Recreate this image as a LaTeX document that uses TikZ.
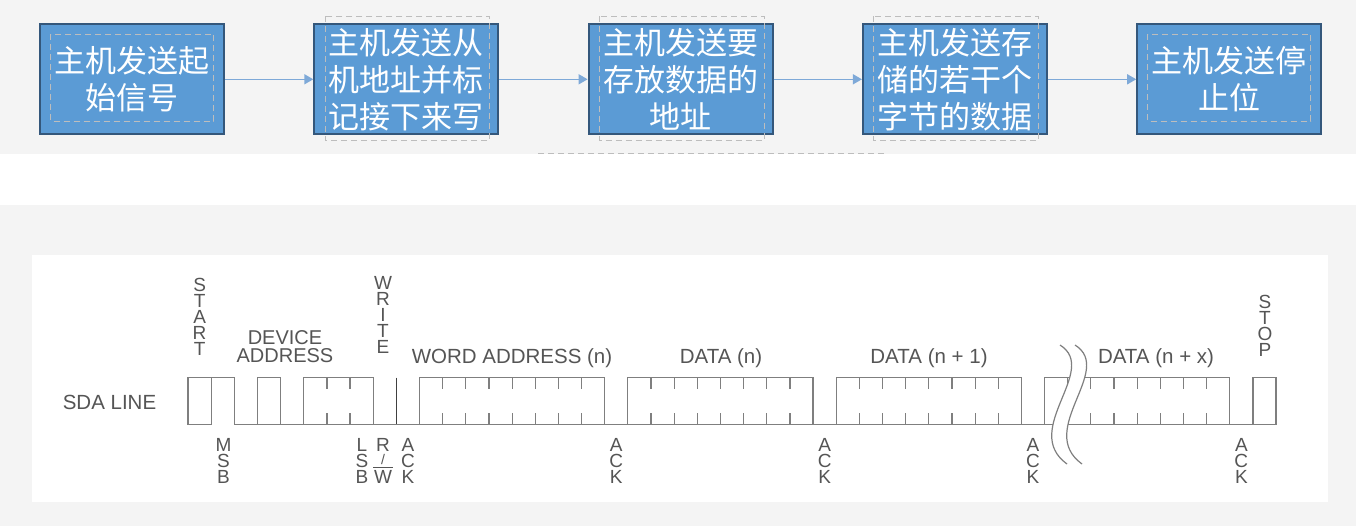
\documentclass[tikz,border=0pt]{standalone}
\usepackage{fontspec}
\setmainfont{Liberation Sans}
\newfontfamily\cjk{Noto Sans CJK SC}
\usetikzlibrary{positioning,arrows.meta}

\definecolor{bggray}{HTML}{F4F4F4}
\definecolor{boxblue}{HTML}{5B9BD5}
\definecolor{boxedge}{HTML}{34577B}
\definecolor{flowline}{HTML}{7EA9D8}
\definecolor{framegray}{HTML}{BDBDBD}
\definecolor{wavegray}{HTML}{7F7F7F}
\definecolor{labelgray}{HTML}{555555}

% W with a bar over it
\newcommand\barW{\makebox[0pt][l]{\hspace{-1pt}\smash{\rule[15.8pt]{20pt}{0.9pt}}}W}

\begin{document}
\begin{tikzpicture}[x=1pt,y=-1pt,
  stepbox/.style={draw=boxedge,line width=2pt,fill=boxblue,minimum width=184pt,
    minimum height=110pt,inner sep=0pt,align=center,text=white,
    font=\cjk\fontsize{31pt}{37pt}\selectfont},
  flow/.style={flowline,line width=1.5pt,-{Triangle[length=9pt,width=10pt]}},
  textframe/.style={framegray,line width=1pt,dash pattern=on 6pt off 4pt},
  wave/.style={wavegray,line width=1.2pt,line cap=rect},
  ackline/.style={black!75,line width=0.8pt},
  lbl/.style={text=labelgray,inner sep=0pt,font=\fontsize{20.5pt}{24pt}\selectfont},
  stack/.style={text=labelgray,inner sep=0pt,align=center,font=\fontsize{19pt}{16pt}\selectfont}]
\useasboundingbox (0,0) rectangle (1356,526);
\fill[bggray] (0,0) rectangle (1356,154);
\fill[bggray] (0,205) rectangle (1356,526);
\fill[white] (32,255) rectangle (1328,502);
\draw[textframe] (538,153.5) -- (884,153.5);

% flow of the write sequence
\node[stepbox] (b1) at (132,79.3) {主机发送起\\始信号};
\node[stepbox,right=88.3pt of b1] (b2) {主机发送从\\机地址并标\\记接下来写};
\node[stepbox,right=88.3pt of b2] (b3) {主机发送要\\存放数据的\\地址};
\node[stepbox,right=88.3pt of b3] (b4) {主机发送存\\储的若干个\\字节的数据};
\node[stepbox,right=88.3pt of b4] (b5) {主机发送停\\止位};
\foreach \b in {b1,b5}
  \draw[textframe] ([shift={(11.5,11)}]\b.north west) rectangle ([shift={(-11.5,-14)}]\b.south east);
\foreach \b in {b2,b3,b4}
  \draw[textframe] ([shift={(12,-7)}]\b.north west) rectangle ([shift={(-9.5,5)}]\b.south east);
\foreach \a/\b in {b1/b2,b2/b3,b3/b4,b4/b5}
  \draw[flow] (\a) -- (\b);

% SDA waveform, one bit = \ux
\def\xo{188}\def\ux{23.15}\def\hi{377.7}\def\lo{424.3}
\foreach \a/\b in {0/2,3/4,5/8,10/18,19/27,28/36,37/45,46/47}
  \draw[wave] ({\xo+\a*\ux},\hi) -- ({\xo+\b*\ux},\hi);
\foreach \a/\b in {0/1,2/47}
  \draw[wave] ({\xo+\a*\ux},\lo) -- ({\xo+\b*\ux},\lo);
\foreach \k in {0,1,2,3,4,5,8,10,18,19,27,28,36,37,45,46,47}
  \draw[wave] ({\xo+\k*\ux},\hi) -- ({\xo+\k*\ux},\lo);
\foreach \k in {6,7}
  \draw[wave] ({\xo+\k*\ux},\hi) -- +(0,10.5) ({\xo+\k*\ux},\lo) -- +(0,-10.5);
\foreach \s in {10,19,28,37}
  \foreach \j in {1,...,7}
    \draw[wave] ({\xo+(\s+\j)*\ux},\hi) -- +(0,10.5) ({\xo+(\s+\j)*\ux},\lo) -- +(0,-10.5);
\draw[ackline] ({\xo+9*\ux},\hi) -- ({\xo+9*\ux},\lo);
% break mark
\fill[white] (1060,345) .. controls (1100,370) and (1020,430) .. (1067,464)
  -- (1082,464) .. controls (1035,430) and (1115,370) .. (1075,345) -- cycle;
\draw[wave,line cap=butt] (1060,345) .. controls (1100,370) and (1020,430) .. (1067,464);
\draw[wave,line cap=butt] (1075,345) .. controls (1115,370) and (1035,430) .. (1082,464);

% labels
\node[lbl,anchor=base] (sda) at (109.5,409.3) {SDA LINE};
\node[stack,anchor=south] (start) at (199.6,355.5) {S\\T\\A\\R\\T};
\node[lbl,align=center,anchor=south,font=\fontsize{20pt}{18pt}\selectfont] (devaddr) at (285,363.3) {DEVICE\\ADDRESS};
\node[stack,anchor=south] (write) at (383,354) {W\\R\\I\\T\\E};
\node[lbl,anchor=base] (wordaddr) at (512,363.3) {WORD ADDRESS (n)};
\node[lbl,anchor=base] (data0) at (721,363.3) {DATA (n)};
\node[lbl,anchor=base] (data1) at (929,363.3) {DATA (n + 1)};
\node[lbl,anchor=base] (datax) at (1156,363.3) {DATA (n + x)};
\node[stack,anchor=south] (stop) at (1265,356.7) {S\\T\\O\\P};
\node[stack,anchor=north] (msb) at (223.5,438) {M\\S\\B};
\node[stack,anchor=north] (lsb) at (362,438) {L\\S\\B};
\node[stack,anchor=north] (rw) at (383,438) {R\\{\fontsize{14pt}{14pt}\selectfont\raisebox{2.5pt}{/}}\\\barW};
\foreach \k [count=\i] in {9.5,18.5,27.5,36.5,45.5}
  \node[stack,anchor=north] (ack\i) at ({\xo+\k*\ux},438) {A\\C\\K};
\end{tikzpicture}
\end{document}
